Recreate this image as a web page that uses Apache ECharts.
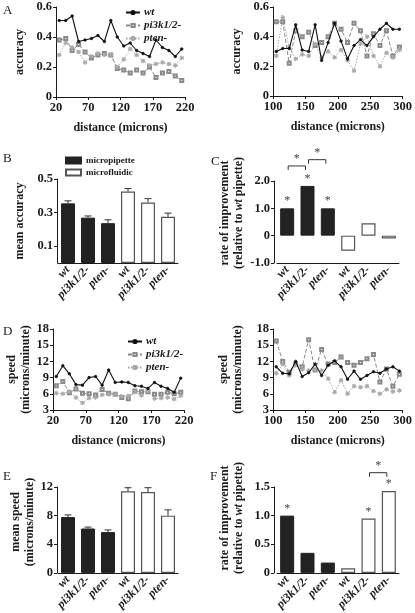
<!DOCTYPE html>
<html><head><meta charset="utf-8">
<script src="https://cdn.jsdelivr.net/npm/echarts@6/dist/echarts.min.js"></script>
<style>html,body{margin:0;padding:0;background:#fff}#c{width:415px;height:613px}</style>
</head><body><div id="c"></div>
<script>
// ---------- DATA ----------
const distLeft  = [25,35,45,55,65,75,85,95,105,115,125,135,145,155,165,175,185,195,205,215];
const distRight = [105,115,125,135,145,155,165,175,185,195,205,215,225,235,245,255,265,275,285,295];
const xTicksLeft  = [20,70,120,170,220];
const xTicksRight = [100,150,200,250,300];

const accWtL = [0.51,0.51,0.54,0.37,0.38,0.39,0.41,0.37,0.51,0.40,0.34,0.36,0.31,0.29,0.27,0.38,0.33,0.31,0.27,0.32];
const accPiL = [0.38,0.39,0.31,0.35,0.30,0.26,0.28,0.29,0.28,0.19,0.18,0.16,0.18,0.16,0.20,0.13,0.16,0.17,0.14,0.11];
const accPtL = [0.28,0.36,0.33,0.30,0.23,0.27,0.29,0.28,0.28,0.20,0.25,0.32,0.28,0.24,0.21,0.22,0.23,0.22,0.21,0.26];

const accWtR = [0.30,0.32,0.32,0.48,0.31,0.30,0.48,0.24,0.36,0.49,0.37,0.25,0.34,0.38,0.34,0.40,0.45,0.49,0.45,0.45];
const accPiR = [0.50,0.50,0.22,0.44,0.40,0.43,0.34,0.36,0.40,0.49,0.45,0.36,0.49,0.44,0.27,0.42,0.34,0.44,0.27,0.33];
const accPtR = [0.27,0.53,0.33,0.25,0.28,0.27,0.35,0.26,0.30,0.26,0.31,0.24,0.17,0.35,0.40,0.27,0.20,0.29,0.26,0.31];

const spdWtL = [9.2,11.2,9.7,7.7,7.6,9.0,9.2,7.6,10.4,8.1,8.2,8.1,7.5,7.4,7.0,8.1,7.4,7.0,6.3,8.9];
const spdPiL = [7.5,8.3,6.2,6.9,6.1,6.0,5.8,6.8,6.1,5.9,5.3,5.1,6.5,6.4,6.4,5.9,5.9,6.3,6.0,6.3];
const spdPtL = [6.1,6.0,6.4,5.3,4.3,5.2,5.3,5.8,5.9,5.9,5.5,5.6,6.3,5.7,6.5,5.1,5.2,5.3,5.0,5.6];

const spdWtR = [11.0,9.8,9.7,12.0,9.2,9.9,11.5,9.4,11.3,12.1,11.0,8.7,10.2,8.7,9.4,10.1,9.8,10.6,11.0,10.2];
const spdPiR = [15.8,12.0,10.0,11.5,11.0,16.0,10.4,14.2,11.5,11.8,12.8,11.8,11.3,11.8,12.5,13.3,8.2,10.6,7.4,9.6];
const spdPtR = [9.8,11.5,9.4,11.3,10.5,10.3,10.4,10.3,8.8,6.3,8.5,6.0,7.4,7.2,7.4,6.5,6.0,6.8,6.4,6.6];

const groups = ['wt','pi3k1/2-','pten-','wt','pi3k1/2-','pten-'];

const meanAccPipette = [0.355,0.270,0.237];
const meanAccFluidic = [0.425,0.360,0.275];
const meanAccUpper   = [0.370,0.280,0.257,0.443,0.383,0.297];
const yTicksB = [0.1,0.3,0.5];

const rateAccPipette = [1.0,1.82,1.0];
const rateAccFluidic = [-0.55,0.45,-0.1];
const rateAccSig = [1,1,1,0,0,0];
const bracketsC = [[0,1,2.55],[1,2,2.78]];

const meanSpdPipette = [7.8,6.2,5.7];
const meanSpdFluidic = [11.4,11.3,8.0];
const meanSpdUpper   = [8.1,6.4,6.0,11.9,11.9,8.8];

const rateSpdPipette = [1.0,0.35,0.18];
const rateSpdFluidic = [0.08,0.95,1.43];
const rateSpdSig = [1,0,0,0,1,1];
const bracketsF = [[4,5,1.75]];

// ---------- STYLE ----------
const F = 'Liberation Serif';
const INK = '#1a1a1a';
const chart = echarts.init(document.getElementById('c'), null, {renderer:'canvas'});

const grids = [
  {left:56, top:7,   width:129, height:90},
  {left:273,top:7,   width:131, height:89},
  {left:58, top:179, width:120, height:84},
  {left:277,top:181, width:122, height:82},
  {left:53, top:329, width:131, height:81},
  {left:273,top:329, width:131, height:81},
  {left:58, top:487, width:120, height:86},
  {left:277,top:487, width:122, height:86}
];

const lbl = {color:INK, fontFamily:F, fontWeight:'bold', fontSize:12.5};
function base(extra){
  return Object.assign({
    axisLine:{show:true, onZero:false, lineStyle:{color:INK, width:1}},
    axisTick:{show:true, length:3, lineStyle:{color:INK}},
    splitLine:{show:false},
    axisLabel:Object.assign({margin:4}, lbl),
    nameTextStyle:{color:INK, fontFamily:F, fontWeight:'bold', fontSize:12}
  }, extra);
}
const one = v => v===0 ? '0' : v.toFixed(1);

function valX(gi, min, max, ticks){
  return base({type:'value', gridIndex:gi, min:min, max:max,
    name:'distance (microns)', nameLocation:'middle', nameGap:25,
    axisLabel:Object.assign({margin:4, customValues:ticks}, lbl),
    axisTick:{show:true, length:3, customValues:ticks, lineStyle:{color:INK}}});
}
function catX(gi){
  return base({type:'category', gridIndex:gi, data:groups,
    axisTick:{show:false},
    axisLabel:Object.assign({}, lbl, {rotate:45, interval:0, margin:5, fontStyle:'italic', fontSize:12})});
}
function yAx(gi, min, max, opt){
  return base(Object.assign({type:'value', gridIndex:gi, min:min, max:max, nameLocation:'middle', nameRotate:90}, opt));
}

const xAxes = [
  valX(0,20,220,xTicksLeft),
  valX(1,100,300,xTicksRight),
  catX(2), catX(3),
  valX(4,20,220,xTicksLeft),
  valX(5,100,300,xTicksRight),
  catX(6), catX(7)
];
const nameRich = {
  a:{fontFamily:F, fontWeight:'bold', fontSize:12, color:INK, lineHeight:14},
  i:{fontFamily:F, fontWeight:'bold', fontStyle:'italic', fontSize:12, color:INK, lineHeight:14}
};
const twoStyle = {fontFamily:F, fontWeight:'bold', fontSize:12, color:INK, lineHeight:14};
const yAxes = [
  yAx(0,0,0.6,{interval:0.2, name:'accuracy', nameGap:30, axisLabel:Object.assign({margin:4, formatter:one}, lbl)}),
  yAx(1,0,0.6,{interval:0.2, name:'accuracy', nameGap:30, axisLabel:Object.assign({margin:4, formatter:one}, lbl)}),
  yAx(2,0,0.5,{offset:1, name:'mean accuracy', nameGap:31,
      axisLabel:Object.assign({margin:4, customValues:yTicksB, formatter:v=>v.toFixed(1)}, lbl),
      axisTick:{show:true, length:3, customValues:yTicksB, lineStyle:{color:INK}}}),
  yAx(3,-1,2,{interval:1, offset:3, name:'{a|rate of improvement}\n{a|(relative to }{i|wt}{a| pipette)}', nameGap:28,
      nameTextStyle:{rich:nameRich, padding:[0,0,0,18]}, axisLabel:Object.assign({margin:4, formatter:one}, lbl)}),
  yAx(4,3,18,{interval:3, name:'speed\n(microns/minute)', nameGap:18, nameTextStyle:twoStyle}),
  yAx(5,3,18,{interval:3, name:'speed\n(microns/minute)', nameGap:28, nameTextStyle:twoStyle}),
  yAx(6,0,12,{interval:4, offset:1, name:'mean speed\n(microns/minute)', nameGap:20,
      nameTextStyle:Object.assign({padding:[0,0,0,16]}, twoStyle)}),
  yAx(7,0,1.5,{interval:0.5, offset:3, name:'{a|rate of improvement}\n{a|(relative to }{i|wt}{a| pipette)}', nameGap:28,
      nameTextStyle:{rich:nameRich, padding:[0,0,0,24]}, axisLabel:Object.assign({margin:4, formatter:one}, lbl)})
];

const STAR = 'path://M4.6,0h0.8v10h-0.8z M0,4.6h10v0.8h-10z M1.4,0.8l0.6,-0.6l7.6,7.6l-0.6,0.6z M8.6,0.8l0.6,0.6l-7.6,7.6l-0.6,-0.6z';
const lineStyles = {
  'wt':       {color:'#111', type:'solid', symbol:'circle', size:2.5, w:1.1},
  'pi3k1/2-': {color:'#8a8a8a', type:[4,2], symbol:'emptyRect', size:3, w:1},
  'pten-':    {color:'#a8a8a8', type:[1.5,1.5], symbol:STAR, size:4, w:1}
};
function lineS(name, xs, ys, gi){
  const st = lineStyles[name];
  return {type:'line', name:name, xAxisIndex:gi, yAxisIndex:gi,
    data: xs.map((x,i)=>[x, ys[i]]),
    symbol:st.symbol, symbolSize:st.size, showSymbol:true,
    lineStyle:{color:st.color, width:st.w, type:st.type},
    itemStyle:{color:st.color, borderColor:st.color, borderWidth:0.8},
    animation:false, z: name==='wt'?5:3};
}

const pad3 = ['-','-','-'];
function barS(name, vals, gi, pipette, sig){
  const data = pipette ? vals.concat(pad3) : pad3.concat(vals);
  const s = {type:'bar', name:name, xAxisIndex:gi, yAxisIndex:gi, data:data,
    barWidth:14, barGap:'-100%', animation:false,
    itemStyle: pipette ? {color:'#222', borderColor:'#222', borderWidth:1}
                       : {color:'#fff', borderColor:'#555', borderWidth:1.2}};
  if (sig) {
    s.label = {show:true, position:'top', distance:1, color:'#444', fontFamily:F, fontSize:12,
      formatter: p => sig[p.dataIndex] ? '*' : ''};
  }
  return s;
}
function errS(vals, uppers, gi){
  return {type:'custom', xAxisIndex:gi, yAxisIndex:gi, z:10, clip:false, animation:false,
    data: uppers.map((u,i)=>[i, vals[i], u]),
    renderItem:(params, api)=>{
      const p1 = api.coord([api.value(0), api.value(1)]);
      const p2 = api.coord([api.value(0), api.value(2)]);
      return {type:'group', children:[
        {type:'line', shape:{x1:p1[0],y1:p1[1],x2:p2[0],y2:p2[1]}, style:{stroke:'#333', lineWidth:1}},
        {type:'line', shape:{x1:p2[0]-3.5,y1:p2[1],x2:p2[0]+3.5,y2:p2[1]}, style:{stroke:'#333', lineWidth:1}}
      ]};
    }};
}
function bracketS(br, gi){
  return {type:'custom', xAxisIndex:gi, yAxisIndex:gi, z:10, clip:false, animation:false,
    data: br,
    renderItem:(params, api)=>{
      const a = api.coord([api.value(0), api.value(2)]);
      const b = api.coord([api.value(1), api.value(2)]);
      const x1 = a[0]+1, x2 = b[0]-2, y = a[1];
      return {type:'group', children:[
        {type:'polyline', shape:{points:[[x1,y+4],[x1,y],[x2,y],[x2,y+4]]}, style:{stroke:'#333', lineWidth:1, fill:null}},
        {type:'text', style:{text:'*', x:(x1+x2)/2, y:y-1, align:'center', verticalAlign:'bottom', fill:'#444', font:'12px "Liberation Serif"'}}
      ]};
    }};
}

const series = [
  lineS('wt', distLeft, accWtL, 0), lineS('pi3k1/2-', distLeft, accPiL, 0), lineS('pten-', distLeft, accPtL, 0),
  lineS('wt', distRight, accWtR, 1), lineS('pi3k1/2-', distRight, accPiR, 1), lineS('pten-', distRight, accPtR, 1),
  barS('micropipette', meanAccPipette, 2, true), barS('microfluidic', meanAccFluidic, 2, false),
  errS(meanAccPipette.concat(meanAccFluidic), meanAccUpper, 2),
  barS('micropipette', rateAccPipette, 3, true, rateAccSig), barS('microfluidic', rateAccFluidic, 3, false, rateAccSig),
  bracketS(bracketsC, 3),
  lineS('wt', distLeft, spdWtL, 4), lineS('pi3k1/2-', distLeft, spdPiL, 4), lineS('pten-', distLeft, spdPtL, 4),
  lineS('wt', distRight, spdWtR, 5), lineS('pi3k1/2-', distRight, spdPiR, 5), lineS('pten-', distRight, spdPtR, 5),
  barS('micropipette', meanSpdPipette, 6, true), barS('microfluidic', meanSpdFluidic, 6, false),
  errS(meanSpdPipette.concat(meanSpdFluidic), meanSpdUpper, 6),
  barS('micropipette', rateSpdPipette, 7, true, rateSpdSig), barS('microfluidic', rateSpdFluidic, 7, false, rateSpdSig),
  bracketS(bracketsF, 7)
];

const lineLegend = (left, top) => ({
  data:['wt','pi3k1/2-','pten-'], left:left, top:top, orient:'vertical',
  itemWidth:14, itemHeight:4, itemGap:2, selectedMode:false,
  textStyle:{fontFamily:F, fontWeight:'bold', fontStyle:'italic', fontSize:11, color:INK, lineHeight:7, padding:[0,0,0,-1]}
});

const letters = [['A',3,4],['B',3,152],['C',211,155],['D',3,325],['E',3,470],['F',210,470]];

chart.setOption({
  animation:false,
  textStyle:{fontFamily:F},
  grid: grids,
  xAxis: xAxes,
  yAxis: yAxes,
  legend: [
    lineLegend(120, 2),
    lineLegend(122, 331),
    {data:[{name:'micropipette', icon:'rect'},{name:'microfluidic', icon:'rect'}], left:60, top:151, orient:'vertical',
     itemWidth:15, itemHeight:6, itemGap:3, selectedMode:false,
     textStyle:{fontFamily:F, fontWeight:'bold', fontSize:9, color:INK}}
  ],
  series: series,
  graphic: letters.map(l=>({type:'text', left:l[1], top:l[2],
    style:{text:l[0], font:'13px "Liberation Serif"', fill:INK}}))
});
</script></body></html>
